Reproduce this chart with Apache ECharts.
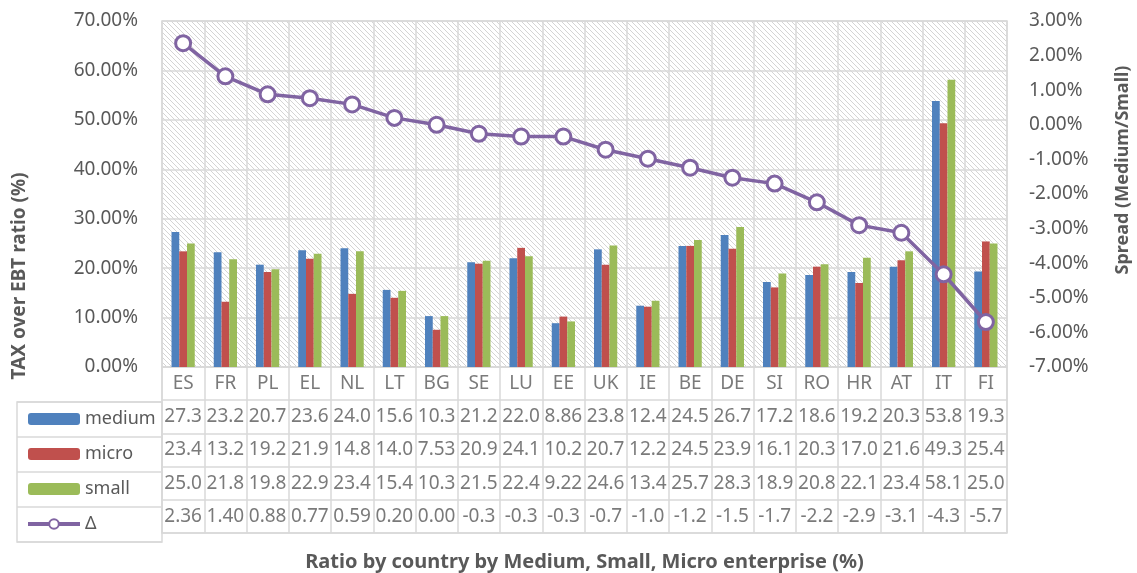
<!DOCTYPE html>
<html>
<head>
<meta charset="utf-8" />
<script src="https://cdn.jsdelivr.net/npm/echarts@6/dist/echarts.min.js"></script>
<style>html,body{margin:0;padding:0;background:#fff}#main{width:1137px;height:573px}</style>
</head>
<body>
<div id="main"></div>
<script>
var countries = ['ES','FR','PL','EL','NL','LT','BG','SE','LU','EE','UK','IE','BE','DE','SI','RO','HR','AT','IT','FI'];
var medium = [27.3,23.2,20.7,23.6,24.0,15.6,10.3,21.2,22.0,8.86,23.8,12.4,24.5,26.7,17.2,18.6,19.2,20.3,53.8,19.3];
var micro  = [23.4,13.2,19.2,21.9,14.8,14.0,7.53,20.9,24.1,10.2,20.7,12.2,24.5,23.9,16.1,20.3,17.0,21.6,49.3,25.4];
var small  = [25.0,21.8,19.8,22.9,23.4,15.4,10.3,21.5,22.4,9.22,24.6,13.4,25.7,28.3,18.9,20.8,22.1,23.4,58.1,25.0];
var delta  = [2.36,1.40,0.88,0.77,0.59,0.20,0.00,-0.26,-0.34,-0.34,-0.72,-0.98,-1.24,-1.53,-1.70,-2.24,-2.90,-3.12,-4.32,-5.70];
var seriesNames = ['medium','micro','small','\u0394'];
var colors = ['#4F81BD','#C0504D','#9BBB59','#8064A2'];

var txt = '#595959';
var gridC = '#d9d9d9';
var font = 'Noto Sans';

// excel-ish "general" format in narrow cells
function fmt(v) {
    if (v < 0 || Math.abs(v) >= 10) return v.toFixed(1);
    return v.toFixed(2);
}

// hatched plot background
var pat = document.createElement('canvas');
pat.width = 5; pat.height = 5;
var g = pat.getContext('2d');
g.fillStyle = '#ffffff'; g.fillRect(0, 0, 5, 5);
g.strokeStyle = '#d4d4d4'; g.lineWidth = 1;
g.beginPath();
g.moveTo(-1, -1); g.lineTo(6, 6);
g.moveTo(-1, 4); g.lineTo(1, 6);
g.moveTo(4, -1); g.lineTo(6, 1);
g.stroke();

// table cells: row 0 = country codes, rows 1..4 = values
var rows = [medium, micro, small, delta];
var cells = [];
countries.forEach(function (c, i) { cells.push([i, 0, c]); });
rows.forEach(function (r, j) {
    r.forEach(function (v, i) { cells.push([i, j + 1, fmt(v)]); });
});

var chart = echarts.init(document.getElementById('main'));
chart.setOption({
    animation: false,
    textStyle: { fontFamily: font, color: txt },
    legend: {
        data: seriesNames,
        orient: 'vertical',
        left: 26, top: 409, padding: 0,
        itemWidth: 52, itemHeight: 12, itemGap: 15,
        textStyle: { fontSize: 18, color: txt, lineHeight: 20, fontFamily: font },
        lineStyle: { width: 4 },
        selectedMode: false
    },
    grid: [
        { left: 162, right: 130, top: 21, bottom: 206, show: true, borderColor: gridC, borderWidth: 1.5, backgroundColor: { image: pat, repeat: 'repeat' } },
        { left: 162, right: 130, top: 367, height: 175, show: true, borderColor: gridC, borderWidth: 1.5 },
        { left: 17, width: 145, top: 402, height: 140, show: true, borderColor: gridC, borderWidth: 1.5 }
    ],
    xAxis: [
        { type: 'category', gridIndex: 0, data: countries, axisLabel: { show: false }, axisTick: { show: false },
          axisLine: { show: false }, splitLine: { show: true, lineStyle: { color: gridC, width: 1.5 } } },
        { type: 'category', gridIndex: 1, data: countries, axisLabel: { show: false }, axisTick: { show: false },
          axisLine: { show: false }, splitLine: { show: true, lineStyle: { color: gridC, width: 1.5 } },
          name: 'Ratio by country by Medium, Small, Micro enterprise (%)', nameLocation: 'middle', nameGap: 19,
          nameTextStyle: { fontSize: 20, fontWeight: 'bold', color: txt, fontFamily: font } },
        { type: 'value', gridIndex: 2, show: false }
    ],
    yAxis: [
        { type: 'value', gridIndex: 0, min: 0, max: 70, interval: 10,
          axisLabel: { formatter: function (v) { return v.toFixed(2) + '%'; }, fontSize: 19, color: txt, margin: 24 },
          axisLine: { show: false }, axisTick: { show: false },
          splitLine: { show: true, lineStyle: { color: gridC, width: 1.5 } } },
        { type: 'value', gridIndex: 0, min: -7, max: 3, interval: 1, position: 'right',
          axisLabel: { formatter: function (v) { return v.toFixed(2) + '%'; }, fontSize: 19, color: txt, margin: 22 },
          axisLine: { show: false }, axisTick: { show: false }, splitLine: { show: false } },
        { type: 'category', gridIndex: 1, inverse: true, data: ['cat'].concat(seriesNames),
          axisLabel: { show: false }, axisTick: { show: false }, axisLine: { show: false },
          splitLine: { show: true, lineStyle: { color: gridC, width: 1.5 } } },
        { type: 'category', gridIndex: 2, inverse: true, data: seriesNames,
          axisLabel: { show: false }, axisTick: { show: false }, axisLine: { show: false },
          splitLine: { show: true, lineStyle: { color: gridC, width: 1.5 } } }
    ],
    graphic: [
        { type: 'text', rotation: Math.PI / 2,
          style: { text: 'TAX over EBT ratio (%)', fontSize: 19, fontWeight: 'bold', fill: txt, fontFamily: font, align: 'center', verticalAlign: 'middle' },
          x: 20, y: 276 },
        { type: 'text', rotation: Math.PI / 2,
          style: { text: 'Spread (Medium/Small)', fontSize: 18, fontWeight: 'bold', fill: txt, fontFamily: font, align: 'center', verticalAlign: 'middle' },
          x: 1123, y: 170 }
    ],
    series: [
        { name: 'medium', type: 'bar', xAxisIndex: 0, yAxisIndex: 0, data: medium, barGap: 0, barCategoryGap: '45%', itemStyle: { color: colors[0] } },
        { name: 'micro', type: 'bar', xAxisIndex: 0, yAxisIndex: 0, data: micro, barGap: 0, barCategoryGap: '45%', itemStyle: { color: colors[1] } },
        { name: 'small', type: 'bar', xAxisIndex: 0, yAxisIndex: 0, data: small, barGap: 0, barCategoryGap: '45%', itemStyle: { color: colors[2] } },
        { name: '\u0394', type: 'line', xAxisIndex: 0, yAxisIndex: 1, data: delta,
          symbol: 'circle', symbolSize: 15,
          lineStyle: { color: colors[3], width: 3.5 },
          itemStyle: { color: '#ffffff', borderColor: colors[3], borderWidth: 3 } },
        { type: 'scatter', xAxisIndex: 1, yAxisIndex: 2, data: cells, symbolSize: 1,
          itemStyle: { color: 'transparent' }, silent: true,
          label: { show: true, position: 'inside', formatter: function (p) { return p.value[2]; },
                   fontSize: 19, color: txt, fontFamily: font } }
    ]
});
</script>
</body>
</html>
